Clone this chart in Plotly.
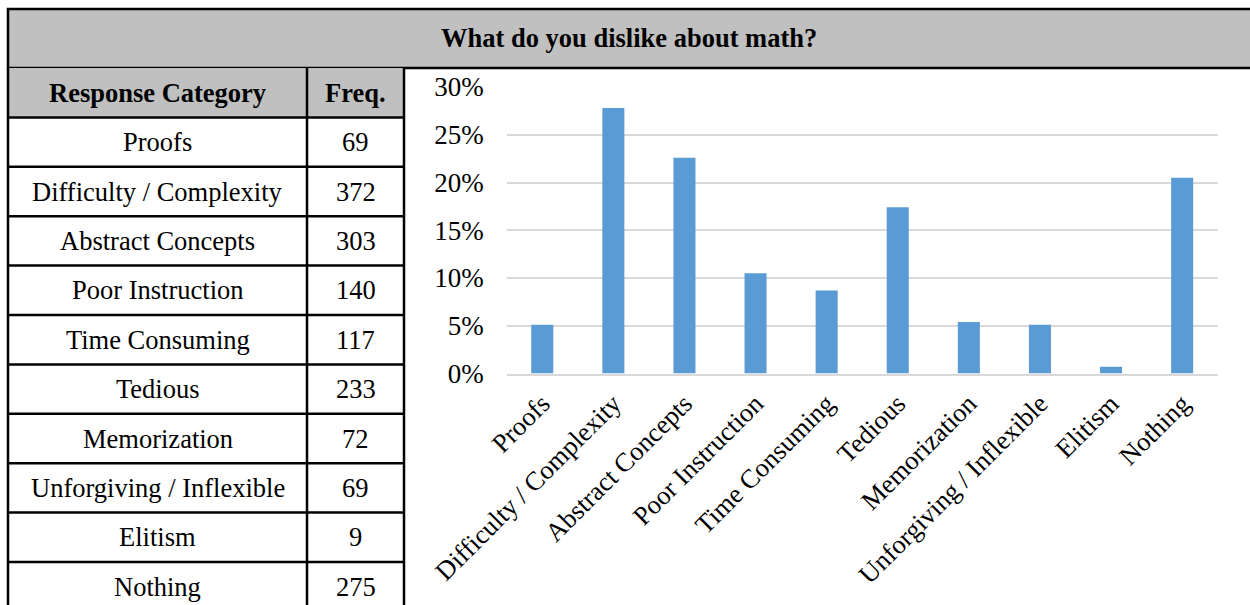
import plotly.graph_objects as go

# ---- data ----
title_text = "What do you dislike about math?"
header_labels = ["Response Category", "Freq."]
categories = ["Proofs", "Difficulty / Complexity", "Abstract Concepts", "Poor Instruction",
              "Time Consuming", "Tedious", "Memorization", "Unforgiving / Inflexible",
              "Elitism", "Nothing"]
frequencies = [69, 372, 303, 140, 117, 233, 72, 69, 9, 275]
percent_values = [0.051, 0.278, 0.226, 0.105, 0.087, 0.174, 0.054, 0.051, 0.007, 0.205]
y_tick_values = [0, 0.05, 0.10, 0.15, 0.20, 0.25, 0.30]

W, H = 1250, 605
FONT = "Liberation Serif, Times New Roman, serif"
FS = 26.5
GRAY = "#C0C0C0"
BAR = "#5B9BD5"
GRID = "#D9D9D9"

def px(x):
    return x / W

def py(y):
    return 1 - y / H

fig = go.Figure()

# ---- bar chart ----
fig.add_trace(go.Bar(
    x=categories, y=percent_values, marker=dict(color=BAR, line=dict(width=0)),
    xaxis="x", yaxis="y", showlegend=False, hoverinfo="x+y"))

# ---- table axes (columns in pixel-like units, rows in row units) ----
row_h = 49.4
top_px = 60
tab_top_offset = (68 - top_px) / row_h
n_rows = len(categories) + 1
x_left, x_split, x_right = 8, 307, 404
col1_c = (x_left + x_split) / 2
col2_c = (x_split + x_right) / 2

fig.add_trace(go.Scatter(x=[col1_c], y=[0.5], xaxis="x2", yaxis="y2", mode="markers",
                         marker=dict(opacity=0), showlegend=False, hoverinfo="skip"))

shapes = []
annotations = []

# title row
shapes.append(dict(type="rect", xref="paper", yref="paper", x0=px(8), x1=px(1260),
                   y0=py(68), y1=py(9), fillcolor=GRAY, line=dict(color="black", width=2.5),
                   layer="below"))
annotations.append(dict(xref="paper", yref="paper", x=px(629), y=py(38.5), text="<b>" + title_text + "</b>",
                        showarrow=False, font=dict(family=FONT, size=FS, color="black"),
                        xanchor="center", yanchor="middle"))

# header fill
shapes.append(dict(type="rect", xref="x2", yref="y2", x0=x_left, x1=x_right, y0=0, y1=1,
                   fillcolor=GRAY, line=dict(width=0), layer="below"))
for r in range(1, n_rows + 1):
    shapes.append(dict(type="line", xref="x2", yref="y2", x0=x_left, x1=x_right, y0=r, y1=r,
                       line=dict(color="black", width=2.5)))
for xv in (x_left, x_split, x_right):
    shapes.append(dict(type="line", xref="x2", yref="y2", x0=xv, x1=xv, y0=0, y1=n_rows + 1,
                       line=dict(color="black", width=2.5)))

annotations.append(dict(xref="x2", yref="y2", x=col1_c, y=0.5, text="<b>" + header_labels[0] + "</b>",
                        showarrow=False, font=dict(family=FONT, size=FS, color="black")))
annotations.append(dict(xref="x2", yref="y2", x=col2_c, y=0.5, text="<b>" + header_labels[1] + "</b>",
                        showarrow=False, font=dict(family=FONT, size=FS, color="black")))
for i, (cat, f) in enumerate(zip(categories, frequencies)):
    annotations.append(dict(xref="x2", yref="y2", x=col1_c, y=i + 1.5, text=cat,
                            showarrow=False, font=dict(family=FONT, size=FS, color="black")))
    annotations.append(dict(xref="x2", yref="y2", x=col2_c, y=i + 1.5, text=str(f),
                            showarrow=False, font=dict(family=FONT, size=FS, color="black")))

fig.update_layout(
    width=W, height=H,
    margin=dict(l=0, r=0, t=0, b=0, autoexpand=False),
    paper_bgcolor="white", plot_bgcolor="white",
    bargap=0.69,
    xaxis=dict(domain=[px(506.7), px(1217.7)], anchor="y", tickangle=-45, automargin=False,
               tickfont=dict(family=FONT, size=FS, color="black"),
               showgrid=False, showline=True, linecolor=GRID, linewidth=2,
               ticks="", ticklabelstandoff=2, fixedrange=True),
    yaxis=dict(domain=[py(373.5), py(87)], anchor="x", range=[0, 0.30], automargin=False,
               tickvals=y_tick_values, tickformat=".0%",
               tickfont=dict(family=FONT, size=27, color="black"),
               showgrid=True, gridcolor=GRID, gridwidth=2, zeroline=False,
               showline=False, ticks="", ticklabelstandoff=22, fixedrange=True),
    xaxis2=dict(domain=[0, px(420)], range=[0, 420], anchor="y2", visible=False,
                automargin=False, fixedrange=True),
    yaxis2=dict(domain=[0, py(top_px)], range=[(H - top_px) / row_h - tab_top_offset, -tab_top_offset],
                anchor="x2", visible=False, automargin=False, fixedrange=True),
    shapes=shapes,
    annotations=annotations,
)

fig.write_html("out.html", config={"displayModeBar": False},
               post_script="document.body.style.margin='0';")
